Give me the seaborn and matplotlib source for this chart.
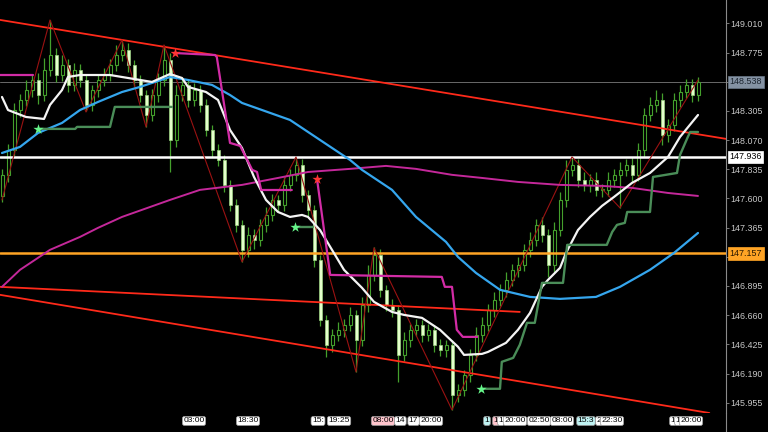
import numpy as np
import pandas as pd
import matplotlib
matplotlib.use("Agg")
import matplotlib.pyplot as plt
import seaborn as sns
from matplotlib.lines import Line2D

# ---------------- data ----------------
first_open = 147.62
closes = [
    147.789, 147.990, 148.312, 148.393, 148.473, 148.554, 148.433, 148.634, 148.755, 148.594,
    148.675, 148.514, 148.634, 148.554, 148.353, 148.473, 148.554, 148.594, 148.675, 148.755,
    148.795, 148.675, 148.554, 148.433, 148.272, 148.433, 148.554, 148.715, 148.071, 148.433,
    148.514, 148.393, 148.473, 148.353, 148.152, 147.990, 147.910, 147.709, 147.548, 147.387,
    147.186, 147.306, 147.266, 147.387, 147.467, 147.588, 147.548, 147.709, 147.789, 147.870,
    147.628, 147.508, 147.105, 146.622, 146.421, 146.501, 146.541, 146.582, 146.662, 146.461,
    146.743, 146.984, 147.145, 146.864, 146.743, 146.703, 146.340, 146.461, 146.541, 146.582,
    146.501, 146.541, 146.421, 146.380, 146.421, 146.018, 146.058, 146.179, 146.340, 146.501,
    146.582, 146.703, 146.783, 146.864, 146.944, 147.025, 147.065, 147.186, 147.266, 147.387,
    147.306, 147.065, 147.347, 147.588, 147.830, 147.870, 147.749, 147.709, 147.749, 147.669,
    147.669, 147.749, 147.789, 147.830, 147.870, 147.789, 147.990, 148.272, 148.353, 148.393,
    148.111, 148.192, 148.393, 148.457, 148.514, 148.433, 148.538]
upper_wick = [
    0.05, 0.05, 0.06, 0.05, 0.08, 0.05, 0.06, 0.10, 0.28, 0.06,
    0.08, 0.05, 0.06, 0.05, 0.04, 0.04, 0.05, 0.06, 0.05, 0.08,
    0.08, 0.06, 0.04, 0.04, 0.04, 0.05, 0.06, 0.12, 0.06, 0.08,
    0.06, 0.05, 0.06, 0.04, 0.05, 0.04, 0.05, 0.04, 0.04, 0.05,
    0.04, 0.06, 0.05, 0.05, 0.06, 0.05, 0.04, 0.06, 0.05, 0.06,
    0.05, 0.04, 0.04, 0.04, 0.04, 0.05, 0.06, 0.05, 0.06, 0.04,
    0.06, 0.08, 0.06, 0.05, 0.04, 0.05, 0.04, 0.06, 0.05, 0.05,
    0.04, 0.05, 0.04, 0.05, 0.04, 0.04, 0.05, 0.04, 0.05, 0.06,
    0.06, 0.05, 0.06, 0.05, 0.06, 0.05, 0.06, 0.05, 0.06, 0.05,
    0.06, 0.05, 0.06, 0.06, 0.08, 0.065, 0.05, 0.06, 0.05, 0.06,
    0.05, 0.06, 0.05, 0.06, 0.05, 0.06, 0.06, 0.06, 0.06, 0.08,
    0.06, 0.05, 0.06, 0.06, 0.05, 0.05, 0.04]
lower_wick = [
    0.05, 0.06, 0.05, 0.06, 0.05, 0.06, 0.07, 0.05, 0.05, 0.06,
    0.05, 0.06, 0.05, 0.06, 0.05, 0.05, 0.06, 0.05, 0.05, 0.05,
    0.05, 0.06, 0.05, 0.06, 0.10, 0.05, 0.06, 0.05, 0.26, 0.06,
    0.05, 0.06, 0.05, 0.06, 0.05, 0.06, 0.05, 0.06, 0.05, 0.06,
    0.10, 0.06, 0.07, 0.05, 0.06, 0.05, 0.06, 0.05, 0.05, 0.05,
    0.06, 0.05, 0.06, 0.05, 0.10, 0.06, 0.05, 0.06, 0.05, 0.26,
    0.05, 0.06, 0.05, 0.06, 0.05, 0.06, 0.22, 0.05, 0.06, 0.05,
    0.06, 0.05, 0.06, 0.05, 0.06, 0.12, 0.06, 0.05, 0.06, 0.05,
    0.06, 0.05, 0.06, 0.05, 0.06, 0.05, 0.06, 0.05, 0.06, 0.05,
    0.06, 0.10, 0.06, 0.05, 0.06, 0.05, 0.06, 0.05, 0.06, 0.05,
    0.06, 0.05, 0.06, 0.27, 0.05, 0.06, 0.05, 0.06, 0.05, 0.06,
    0.08, 0.06, 0.05, 0.06, 0.05, 0.06, 0.05]

# moving averages (knots: candle index, price)
ma_fast_idx = [0, 1, 4, 7, 8, 10, 11, 13, 18, 21, 25, 28, 30, 31, 34, 36, 38, 40, 42, 44, 46, 48,
               50, 51, 53, 55, 57, 60, 62, 65, 67, 70, 73, 76, 77, 80, 81, 84, 86, 88, 90, 91, 93,
               94, 96, 98, 100, 102, 105, 108, 111, 113, 116]
ma_fast_val = [148.417, 148.312, 148.256, 148.240, 148.353, 148.473, 148.578, 148.594, 148.594,
               148.570, 148.538, 148.602, 148.570, 148.498, 148.457, 148.393, 148.152, 148.007,
               147.773, 147.588, 147.491, 147.451, 147.467, 147.451, 147.346, 147.186, 147.025,
               146.880, 146.767, 146.686, 146.662, 146.638, 146.542, 146.405, 146.340, 146.348,
               146.364, 146.437, 146.542, 146.678, 146.888, 146.944, 147.041, 147.161, 147.346,
               147.451, 147.540, 147.612, 147.725, 147.805, 147.934, 148.095, 148.272]
ma_mid_idx = [0, 3, 6, 10, 13, 16, 20, 23, 28, 31, 35, 38, 40, 48, 53, 58, 60, 65, 69, 74, 76, 79,
              83, 88, 93, 99, 103, 108, 112, 116]
ma_mid_val = [147.966, 148.015, 148.127, 148.208, 148.312, 148.377, 148.457, 148.498, 148.578,
              148.554, 148.514, 148.433, 148.369, 148.232, 148.071, 147.910, 147.830, 147.669,
              147.451, 147.250, 147.129, 147.000, 146.864, 146.807, 146.791, 146.807, 146.888,
              147.025, 147.161, 147.322]
ma_slow_idx = [0, 3, 8, 13, 16, 20, 28, 33, 40, 46, 51, 58, 64, 69, 75, 80, 86, 93, 100, 105, 111, 116]
ma_slow_val = [146.888, 147.025, 147.186, 147.290, 147.363, 147.451, 147.588, 147.669, 147.709,
               147.765, 147.813, 147.838, 147.862, 147.838, 147.790, 147.765, 147.733, 147.709,
               147.701, 147.685, 147.644, 147.620]

# magenta trailing stop segments
stop_a_idx = [-0.4, 5.2]
stop_a_val = [148.594, 148.594]
stop_b_idx = [28.8, 35.5, 35.8, 38.0, 39.7, 41.7, 42.5, 43.2, 48.3]
stop_b_val = [148.771, 148.755, 148.739, 148.047, 148.023, 147.830, 147.813, 147.668, 147.668]
stop_c_idx = [52.5, 54.7, 73.3, 73.8, 75.0, 75.8, 76.8, 79.2]
stop_c_val = [147.757, 146.984, 146.968, 146.888, 146.888, 146.542, 146.485, 146.485]

# green trailing stop segments
trail_a_idx = [6.3, 12.2, 12.5, 18.0, 18.8, 28.3]
trail_a_val = [148.160, 148.160, 148.176, 148.176, 148.337, 148.337]
trail_b_idx = [48.8, 51.8]
trail_b_val = [147.371, 147.371]
trail_c_idx = [79.7, 83.0, 83.3, 85.2, 86.3, 87.5, 88.8, 90.0, 93.5, 94.2, 100.8, 101.7, 102.5,
               103.8, 104.2, 108.0, 108.5, 112.5, 113.0, 114.3, 114.7, 116.0]
trail_c_val = [146.067, 146.067, 146.284, 146.316, 146.421, 146.598, 146.598, 146.920, 146.920,
               147.226, 147.226, 147.330, 147.387, 147.403, 147.491, 147.491, 147.773, 147.805,
               147.950, 148.095, 148.135, 148.135]

# zigzag
zz_idx = [0, 8, 14, 20, 24, 27, 40, 49, 59, 62, 75, 95, 103, 116]
zz_val = [147.588, 149.037, 148.296, 148.876, 148.176, 148.836, 147.089, 147.934, 146.203,
          147.202, 145.897, 147.934, 147.524, 148.554]

# signals
red_star_idx = [28.8, 52.5]
red_star_val = [148.771, 147.757]
green_star_idx = [6.0, 48.8, 79.8]
green_star_val = [148.160, 147.371, 146.066]

# trend lines (two anchor points each)
trend_top = [(0, 149.035), (120, 148.085)]
trend_bottom = [(0, 146.821), (120, 145.855)]
trend_mid = [(-0.33, 146.888), (86.3, 146.686)]

# horizontal levels
level_white = 147.936
level_orange = 147.157
last_price = 148.538

price_ticks = [149.010, 148.775, 148.540, 148.305, 148.070, 147.835, 147.600, 147.365,
               147.130, 146.895, 146.660, 146.425, 146.190, 145.955]
price_tick_labels = ["149.010", "148.775", "", "148.305", "148.070", "147.835", "147.600",
                     "147.365", "", "146.895", "146.660", "146.425", "146.190", "145.955"]

time_labels = ["03:00", "18:30", "15:", "19:25", "08:00", "14", "17", "20:00", "1", "1", "1",
               "20:00", "02:50", "08:00", "15:3", "2", "22:30", "1", "1", "20:00"]
time_pos = [32.0, 41.0, 52.67, 56.17, 63.5, 66.4, 68.6, 71.5, 80.83, 82.33, 83.17,
            85.5, 89.5, 93.33, 97.33, 99.5, 101.67, 111.83, 112.67, 114.83]
time_bg = ["w", "w", "w", "w", "p", "w", "w", "w", "c", "p", "w",
           "w", "w", "w", "c", "w", "w", "w", "w", "w"]

# ---------------- drawing ----------------
sns.set_style("dark")
plt.rcParams["font.family"] = ["Liberation Sans", "DejaVu Sans"]

fig = plt.figure(figsize=(7.68, 4.32), dpi=100, facecolor="black")
ax = fig.add_axes([0, 19 / 432, 726 / 768, 413 / 432])
ax.set_facecolor("black")

n = len(closes)
idx = np.arange(n)
c = np.array(closes)
o = np.array([first_open] + closes[:-1])
hi = np.maximum(o, c) + np.array(upper_wick)
lo = np.minimum(o, c) - np.array(lower_wick)
bull = c >= o
body_low = np.minimum(o, c)
body_h = np.maximum(np.abs(c - o), 0.01)

wick_col = "#44a02c"
bear_col = "#e4ffcc"
ax.vlines(idx, lo, hi, color=wick_col, lw=0.9, zorder=2)
ax.bar(idx[bull], body_h[bull], bottom=body_low[bull], width=0.5, color="black",
       edgecolor=wick_col, linewidth=0.8, zorder=2.1)
ax.bar(idx[~bull], body_h[~bull], bottom=body_low[~bull], width=0.5, color=bear_col,
       edgecolor="#9ad080", linewidth=0.5, zorder=2.1)

# horizontal levels
ax.axhline(last_price, color="#6a6a6a", lw=0.7, zorder=1.5)
ax.axhline(level_white, color="white", lw=1.8, zorder=3)
ax.axhline(level_orange, color="#ffa425", lw=1.8, zorder=3)

# trend lines
red = "#ff2a1a"
ax.axline(trend_top[0], trend_top[1], color=red, lw=1.3, zorder=3)
ax.axline(trend_bottom[0], trend_bottom[1], color=red, lw=1.3, zorder=3)
ax.plot([trend_mid[0][0], trend_mid[1][0]], [trend_mid[0][1], trend_mid[1][1]],
        color=red, lw=1.3, zorder=3)

def line(xs, ys, color, lw, z):
    df = pd.DataFrame({"i": xs, "p": ys})
    sns.lineplot(data=df, x="i", y="p", ax=ax, color=color, lw=lw, sort=False,
                 estimator=None, zorder=z)

line(zz_idx, zz_val, "#9a1212", 0.8, 3.1)
line(ma_slow_idx, ma_slow_val, "#c4289a", 1.4, 3.2)
line(ma_mid_idx, ma_mid_val, "#35a6ee", 1.6, 3.3)
line(ma_fast_idx, ma_fast_val, "#f4f4f4", 1.6, 3.4)
for xs, ys in [(stop_a_idx, stop_a_val), (stop_b_idx, stop_b_val), (stop_c_idx, stop_c_val)]:
    line(xs, ys, "#d22ca6", 1.6, 3.5)
for xs, ys in [(trail_a_idx, trail_a_val), (trail_b_idx, trail_b_val), (trail_c_idx, trail_c_val)]:
    line(xs, ys, "#4a8d58", 1.7, 3.5)

ax.scatter(red_star_idx, red_star_val, marker="*", s=60, color="#ff3535", zorder=4, linewidths=0)
ax.scatter(green_star_idx, green_star_val, marker="*", s=60, color="#66f58a", zorder=4, linewidths=0)

# axes setup
ax.set_xlim(-1 / 3, 121 - 1 / 3)
ax.set_ylim(145.872, 149.198)
ax.set_xlabel("")
ax.set_ylabel("")
ax.grid(False)
for s in ["top", "left", "bottom"]:
    ax.spines[s].set_visible(False)
ax.spines["right"].set_color("#8a8a8a")
ax.spines["right"].set_linewidth(0.8)

ax.yaxis.tick_right()
ax.set_yticks(price_ticks)
ax.set_yticklabels(price_tick_labels)
ax.tick_params(axis="y", colors="#8a8a8a", labelcolor="#c8c8c8", length=2.5, width=0.6,
               pad=0.8, labelsize=6.4, direction="out")

ax.set_xticks(time_pos)
ax.set_xticklabels(time_labels)
ax.tick_params(axis="x", length=0, pad=3.2, labelsize=6.1, labelcolor="black")
bg_map = {"w": "#ffffff", "p": "#ffc4cc", "c": "#bff2f2"}
for lab, b in zip(ax.get_xticklabels(), time_bg):
    lab.set_bbox(dict(boxstyle="round,pad=0.12,rounding_size=0.25", fc=bg_map[b],
                      ec="#9a9a9a", lw=0.5))

# price boxes on the right axis
boxes = [(last_price, "#8492a3", "#1c2530", "#6a7888"),
         (level_white, "#ffffff", "#000000", "#ffffff"),
         (level_orange, "#ffa425", "#2a1800", "#ffa425")]
for p, fc, tc, ec in boxes:
    ax.annotate(f"{p:.3f}", xy=(1.0, p), xycoords=("axes fraction", "data"),
                xytext=(2.5, 0), textcoords="offset points", ha="left", va="center",
                fontsize=6.4, color=tc, zorder=10, annotation_clip=False,
                bbox=dict(boxstyle="square,pad=0.18", fc=fc, ec=ec, lw=0.5))

fig.add_artist(Line2D([726 / 768, 726 / 768], [0, 19 / 432], transform=fig.transFigure,
                      color="#8a8a8a", lw=0.8))

fig.savefig("out.png", dpi=100, facecolor="black")
